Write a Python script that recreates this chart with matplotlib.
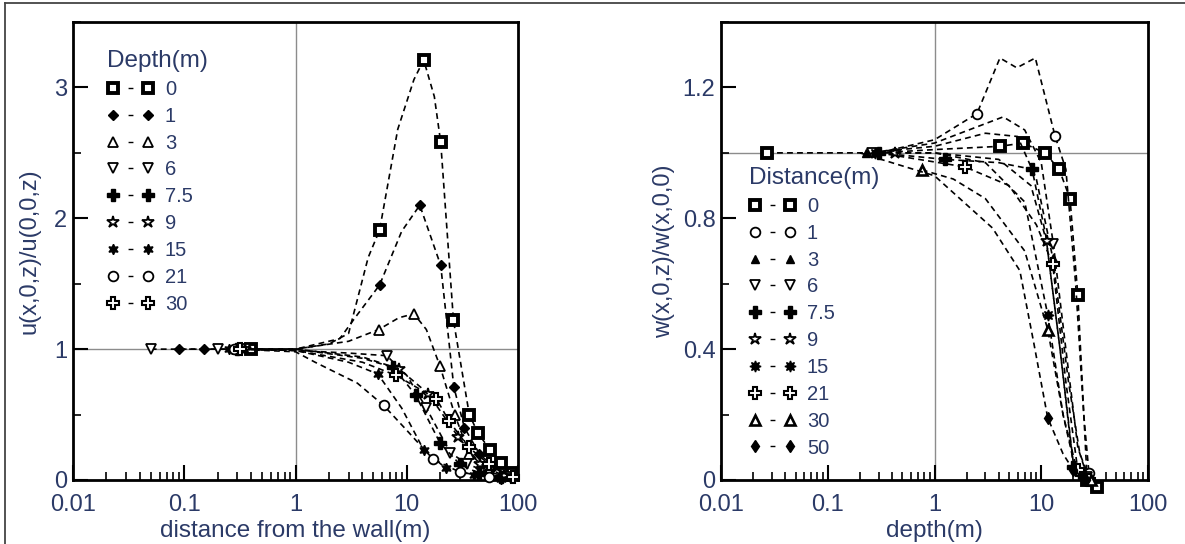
import matplotlib
matplotlib.use('Agg')
import matplotlib.pyplot as plt
from matplotlib.lines import Line2D
from matplotlib.ticker import MultipleLocator, FuncFormatter, LogLocator, NullFormatter

plt.rcParams['font.family'] = ['Liberation Sans', 'DejaVu Sans']
TXT = '#2b3a67'

# ---- left panel: u(x,0,z)/u(0,0,z) vs distance from wall, per depth ----
depth_labels = ['0', '1', '3', '6', '7.5', '9', '15', '21', '30']

u_x_0 = [0.4, 1.0, 2.0, 3.0, 4.5, 5.7, 8.3, 11.6, 14.2, 17.7, 20.2, 26.3, 36.5, 43.6, 56, 70, 88]
u_y_0 = [1.0, 1.0, 1.04, 1.12, 1.70, 1.91, 2.68, 3.06, 3.21, 2.93, 2.58, 1.22, 0.50, 0.36, 0.23, 0.13, 0.05]
u_x_1 = [0.09, 0.15, 0.3, 1.0, 2.5, 3.5, 5.7, 9.0, 13.1, 20.2, 26.5, 33, 45, 60, 80]
u_y_1 = [1.0, 1.0, 1.0, 1.0, 1.08, 1.25, 1.49, 1.90, 2.10, 1.64, 0.71, 0.40, 0.20, 0.10, 0.03]
u_x_3 = [0.3, 1.0, 3.0, 5.6, 8.5, 11.6, 15, 19.9, 27, 36.5, 50, 75]
u_y_3 = [1.0, 1.0, 1.06, 1.15, 1.24, 1.27, 1.15, 0.87, 0.50, 0.20, 0.10, 0.03]
u_x_6 = [0.05, 0.2, 0.35, 1.0, 3.0, 6.6, 10, 15, 24.6, 35, 55, 85]
u_y_6 = [1.0, 1.0, 1.0, 0.99, 0.97, 0.95, 0.80, 0.55, 0.21, 0.12, 0.06, 0.02]
u_x_75 = [0.3, 1.0, 4.0, 7.6, 12, 20, 30, 45, 70]
u_y_75 = [1.0, 1.0, 0.93, 0.86, 0.65, 0.28, 0.12, 0.05, 0.02]
u_x_9 = [0.35, 1.0, 4.0, 8.5, 15.6, 29, 46, 75]
u_y_9 = [1.0, 1.0, 0.94, 0.85, 0.66, 0.33, 0.12, 0.03]
u_x_15 = [0.25, 1.0, 3.0, 5.5, 9.0, 14.2, 22.5, 40, 70]
u_y_15 = [1.0, 0.99, 0.90, 0.81, 0.55, 0.23, 0.09, 0.04, 0.01]
u_x_21 = [0.28, 1.0, 1.5, 3.6, 6.2, 10, 17.2, 30, 55]
u_y_21 = [1.0, 0.98, 0.90, 0.74, 0.57, 0.38, 0.16, 0.06, 0.02]
u_x_30 = [0.32, 1.0, 4.0, 8.0, 18.5, 24, 36, 55, 90]
u_y_30 = [1.0, 0.99, 0.90, 0.80, 0.62, 0.45, 0.25, 0.12, 0.02]

# ---- right panel: w(x,0,z)/w(x,0,0) vs depth, per distance ----
dist_labels = ['0', '1', '3', '6', '7.5', '9', '15', '21', '30', '50']

w_x_0 = [0.027, 0.3, 1.0, 4.11, 6.75, 10.8, 14.7, 18.6, 22.0, 26.9, 33]
w_y_0 = [1.0, 1.0, 1.01, 1.02, 1.03, 1.0, 0.95, 0.86, 0.566, 0.0, -0.02]
w_x_1 = [0.3, 1.0, 2.5, 4.1, 5.9, 8.8, 13.5, 17, 21, 25, 28]
w_y_1 = [1.0, 1.04, 1.12, 1.29, 1.26, 1.29, 1.05, 0.95, 0.60, 0.20, 0.02]
w_x_3 = [0.23, 1.0, 3.0, 6.0, 9.0, 12.8, 18, 23, 28]
w_y_3 = [1.0, 1.02, 1.06, 1.05, 0.92, 0.68, 0.30, 0.08, 0.01]
w_x_6 = [0.26, 1.0, 4.4, 7.0, 10, 13, 17, 22, 27]
w_y_6 = [1.0, 1.03, 1.11, 1.07, 0.97, 0.72, 0.40, 0.10, 0.01]
w_x_75 = [0.3, 1.25, 4.0, 8.2, 11, 15, 20, 25]
w_y_75 = [1.0, 0.98, 0.97, 0.95, 0.75, 0.40, 0.04, 0.01]
w_x_9 = [0.43, 1.0, 4.0, 8.0, 11.2, 15, 20, 26]
w_y_9 = [1.0, 1.0, 0.98, 0.90, 0.73, 0.40, 0.05, 0.0]
w_x_15 = [0.28, 1.0, 3.0, 7.0, 11.5, 16, 21, 27]
w_y_15 = [1.0, 1.0, 0.97, 0.85, 0.505, 0.20, 0.03, 0.0]
w_x_21 = [0.3, 1.93, 5.0, 9.0, 12.8, 17, 22, 28]
w_y_21 = [1.0, 0.957, 0.90, 0.78, 0.66, 0.30, 0.03, 0.0]
w_x_30 = [0.76, 1.5, 3.0, 7.0, 11.5, 16, 22, 29]
w_y_30 = [0.948, 0.92, 0.86, 0.70, 0.46, 0.20, 0.02, 0.0]
w_x_50 = [0.2, 1.0, 3.5, 6.3, 8.5, 11.5, 16, 20, 26]
w_y_50 = [1.0, 0.93, 0.77, 0.64, 0.42, 0.19, 0.08, 0.03, 0.0]

left_series = [(u_x_0, u_y_0), (u_x_1, u_y_1), (u_x_3, u_y_3), (u_x_6, u_y_6),
               (u_x_75, u_y_75), (u_x_9, u_y_9), (u_x_15, u_y_15),
               (u_x_21, u_y_21), (u_x_30, u_y_30)]
right_series = [(w_x_0, w_y_0), (w_x_1, w_y_1), (w_x_3, w_y_3), (w_x_6, w_y_6),
                (w_x_75, w_y_75), (w_x_9, w_y_9), (w_x_15, w_y_15),
                (w_x_21, w_y_21), (w_x_30, w_y_30), (w_x_50, w_y_50)]

# which vertices carry a marker (the rest only shape the dashed curve)
left_marks = [[0, 5, 8, 10, 11, 12, 13, 14, 15, 16], [0, 1, 2, 6, 8, 9, 10, 11, 12, 13, 14],
              [0, 3, 5, 7, 8, 9, 10, 11], [0, 1, 2, 5, 7, 8, 9, 10, 11], [0, 3, 4, 5, 6, 7, 8],
              [0, 3, 4, 5, 6, 7], [0, 3, 5, 6, 7, 8], [0, 4, 6, 7, 8], [0, 3, 4, 5, 6, 7, 8]]
right_marks = [[0, 3, 4, 5, 6, 7, 8, 9, 10], [2, 6, 10], [0, 5, 8], [0, 5, 8], [0, 1, 3, 6, 7],
               [0, 4, 7], [0, 4, 6, 7], [1, 4, 6, 7], [0, 4, 7], [5, 7, 8]]

sq = dict(marker='s', mfc='white', mec='k', mew=2.8, ms=7.5)
left_styles = [
    sq,
    dict(marker='D', mfc='k', mec='k', ms=5.5),
    dict(marker='^', mfc='white', mec='k', mew=1.3, ms=7),
    dict(marker='v', mfc='white', mec='k', mew=1.3, ms=7),
    dict(marker='P', mfc='k', mec='k', ms=8),
    dict(marker='*', mfc='white', mec='k', mew=1.3, ms=9),
    dict(marker=(6, 1, 0), mfc='k', mec='k', ms=7.5),
    dict(marker='o', mfc='white', mec='k', mew=1.3, ms=7),
    dict(marker='P', mfc='white', mec='k', mew=1.5, ms=8.5),
]
right_styles = [
    sq,
    dict(marker='o', mfc='white', mec='k', mew=1.3, ms=7),
    dict(marker='^', mfc='k', mec='k', ms=6),
    dict(marker='v', mfc='white', mec='k', mew=1.3, ms=7),
    dict(marker='P', mfc='k', mec='k', ms=8),
    dict(marker='*', mfc='white', mec='k', mew=1.3, ms=9),
    dict(marker=(8, 1, 0), mfc='k', mec='k', ms=8),
    dict(marker='P', mfc='white', mec='k', mew=1.5, ms=8.5),
    dict(marker='^', mfc='white', mec='k', mew=1.9, ms=7),
    dict(marker='d', mfc='k', mec='k', ms=6.5),
]

fig = plt.figure(figsize=(11.85, 5.44), dpi=100)
W, H = 1185, 544
axL = fig.add_axes([73 / W, 64 / H, 445 / W, 458 / H])
axR = fig.add_axes([721 / W, 64 / H, 427 / W, 458 / H])

# outer frame of the picture
fig.add_artist(Line2D([5 / W, 5 / W], [0, 1 - 3 / H], color='#444444', lw=1.3))
fig.add_artist(Line2D([5 / W, 1], [1 - 3 / H, 1 - 3 / H], color='#444444', lw=1.3))

dash = (0, (3.5, 2.5))
leg_dash = (22.65, (3.5, 30))


def draw(ax, series, marks, styles, labels, ymax, ystep, yminor):
    ax.set_xscale('log')
    ax.set_xlim(0.01, 100)
    ax.set_ylim(0, ymax)
    ax.axvline(1, color='#8c8c8c', lw=1, zorder=1)
    ax.axhline(1, color='#8c8c8c', lw=1, zorder=1)
    handles = []
    for (xs, ys), mk, st, lab in zip(series, marks, styles, labels):
        ax.plot(xs, ys, color='k', lw=1.2, linestyle=dash, markevery=mk,
                clip_on=False, zorder=3, **st)
        handles.append(Line2D([], [], color='k', lw=1, linestyle=leg_dash, label=lab, **st))
    for s in ax.spines.values():
        s.set_linewidth(2)
    ax.xaxis.set_major_locator(LogLocator(base=10, numticks=10))
    ax.xaxis.set_minor_locator(LogLocator(base=10, subs=range(2, 10), numticks=10))
    ax.xaxis.set_minor_formatter(NullFormatter())
    ax.xaxis.set_major_formatter(FuncFormatter(lambda v, p: '%g' % v))
    ax.yaxis.set_major_locator(MultipleLocator(ystep))
    ax.yaxis.set_minor_locator(MultipleLocator(yminor))
    ax.yaxis.set_major_formatter(FuncFormatter(lambda v, p: '%g' % round(v, 2)))
    ax.tick_params(which='major', direction='in', length=11, width=1.5,
                   labelsize=17, labelcolor=TXT)
    ax.tick_params(which='minor', direction='in', length=6, width=1.2)
    ax.tick_params(axis='x', which='major', pad=10)
    ax.tick_params(axis='y', which='major', pad=4)
    return handles


hL = draw(axL, left_series, left_marks, left_styles, depth_labels, 3.5, 1, 0.5)
hR = draw(axR, right_series, right_marks, right_styles, dist_labels, 1.4, 0.4, 0.2)

axL.set_xlabel('distance from the wall(m)', fontsize=17.5, color=TXT)
axL.set_ylabel('u(x,0,z)/u(0,0,z)', fontsize=17, color=TXT)
axR.set_xlabel('depth(m)', fontsize=17.5, color=TXT)
axR.set_ylabel('w(x,0,z)/w(x,0,0)', fontsize=17, color=TXT)
axL.xaxis.set_label_coords(0.5, -0.087)
axR.xaxis.set_label_coords(0.5, -0.087)
axL.yaxis.set_label_coords(-0.072, 0.5)
axR.yaxis.set_label_coords(-0.108, 0.5)

for ax, hs, title, anchor in [(axL, hL, 'Depth(m)', ((107 - 73) / 445, (480 - 50) / 458)),
                              (axR, hR, 'Distance(m)', ((749 - 721) / 427, (480 - 167) / 458))]:
    leg = ax.legend(handles=hs, title=title, loc='upper left', bbox_to_anchor=anchor,
                    frameon=False, fontsize=14.5, title_fontsize=17.5, numpoints=2,
                    handlelength=2.34, handletextpad=0.54, labelspacing=0.39,
                    borderpad=0, borderaxespad=0, alignment='left')
    for t in leg.get_texts():
        t.set_color(TXT)
    leg.get_title().set_color(TXT)

fig.savefig('out.png', dpi=100)
